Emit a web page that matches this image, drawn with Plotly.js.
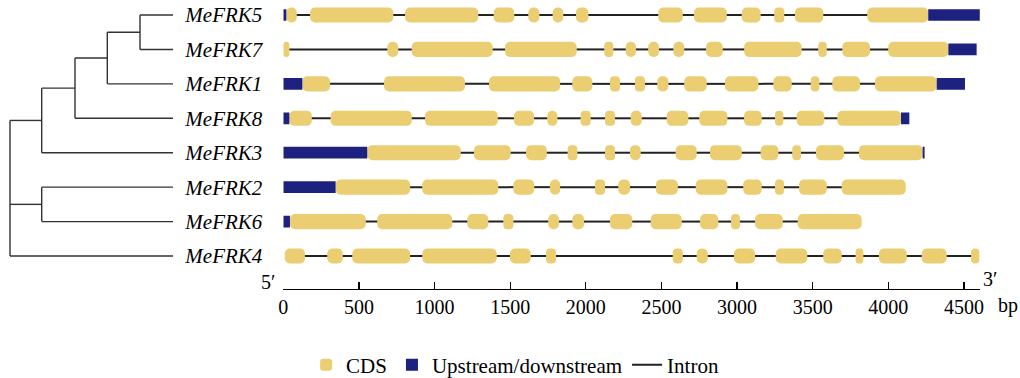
<!DOCTYPE html>
<html><head><meta charset="utf-8">
<script src="https://cdn.plot.ly/plotly-3.0.1.min.js"></script>
<style>html,body{margin:0;padding:0;background:#fff}#chart{width:1020px;height:378px}</style>
</head><body><div id="chart"></div>
<script>
// ---- data (bp) ----
const genes = ['MeFRK5','MeFRK7','MeFRK1','MeFRK8','MeFRK3','MeFRK2','MeFRK6','MeFRK4'];

const MeFRK5_utr = [[0,20],[4264,4606]];
const MeFRK5_cds = [[20,89],[177,727],[805,1289],[1391,1527],[1620,1693],[1781,1851],[1935,2017],[2479,2641],[2715,2932],[3031,3156],[3246,3312],[3383,3570],[3861,4264]];
const MeFRK7_utr = [[4397,4584]];
const MeFRK7_cds = [[0,40],[688,760],[849,1384],[1466,1940],[2122,2182],[2264,2332],[2413,2484],[2579,2651],[2795,2905],[3047,3427],[3537,3593],[3696,3879],[4000,4397]];
const MeFRK1_utr = [[0,126],[4320,4507]];
const MeFRK1_cds = [[126,309],[666,1201],[1360,1830],[1911,2043],[2160,2226],[2325,2391],[2473,2546],[2651,2799],[2920,3141],[3240,3361],[3487,3544],[3630,3813],[3912,4320]];
const MeFRK8_utr = [[0,40],[4084,4139]];
const MeFRK8_cds = [[40,188],[313,849],[937,1418],[1525,1658],[1745,1812],[1966,2032],[2127,2193],[2297,2370],[2535,2678],[2750,2936],[3046,3163],[3251,3306],[3394,3577],[3663,4084]];
const MeFRK3_utr = [[0,555],[4227,4240]];
const MeFRK3_cds = [[555,1173],[1261,1503],[1605,1742],[1880,1944],[2127,2193],[2292,2363],[2594,2733],[2821,3031],[3156,3273],[3365,3423],[3522,3707],[3806,4227]];
const MeFRK2_utr = [[0,346]];
const MeFRK2_cds = [[346,838],[919,1421],[1521,1659],[1763,1830],[2061,2127],[2215,2292],[2464,2608],[2727,2936],[3041,3163],[3251,3310],[3410,3593],[3692,4115]];
const MeFRK6_utr = [[0,44]];
const MeFRK6_cds = [[44,545],[621,1117],[1217,1355],[1455,1521],[1752,1823],[1911,1988],[2160,2307],[2429,2634],[2755,2876],[2960,3019],[3119,3302],[3401,3824]];
const MeFRK4_utr = [];
const MeFRK4_cds = [[10,143],[291,393],[456,838],[919,1411],[1499,1636],[1737,1803],[2575,2641],[2733,2806],[2980,3119],[3256,3464],[3570,3692],[3784,3835],[3938,4122],[4221,4386],[4547,4602]];

const cdsByGene = [MeFRK5_cds, MeFRK7_cds, MeFRK1_cds, MeFRK8_cds, MeFRK3_cds, MeFRK2_cds, MeFRK6_cds, MeFRK4_cds];
const utrByGene = [MeFRK5_utr, MeFRK7_utr, MeFRK1_utr, MeFRK8_utr, MeFRK3_utr, MeFRK2_utr, MeFRK6_utr, MeFRK4_utr];

const tickValues = [0,500,1000,1500,2000,2500,3000,3500,4000,4500];
const tickLabels = ['0','500','1000','1500','2000','2500','3000','3500','4000','4500'];
const legendNames = ['CDS','Upstream/downstream','Intron'];

// phylogenetic tree: node depth (tree units) and children
const leafDepth = 173;
const tree = {d:10, c:[
  {d:41.7, c:[ {d:75, c:[ {d:107.3, c:[ {d:140, c:['MeFRK5','MeFRK7']}, 'MeFRK1']}, 'MeFRK8']}, 'MeFRK3']},
  {d:41.7, c:['MeFRK2','MeFRK6']},
  'MeFRK4']};

// ---- build traces ----
function barArrays(list){
  const y=[],base=[],len=[];
  list.forEach((segs,i)=>segs.forEach(s=>{y.push(i);base.push(s[0]);len.push(s[1]-s[0]);}));
  return {y,base,len};
}
const cdsA = barArrays(cdsByGene);
const utrA = barArrays(utrByGene);

const ix=[], iy=[];
genes.forEach((g,i)=>{
  const segs = cdsByGene[i].concat(utrByGene[i]).sort((a,b)=>a[0]-b[0]);
  for(let k=0;k<segs.length-1;k++){
    if(segs[k+1][0]>segs[k][1]){ ix.push(segs[k][1],segs[k+1][0],null); iy.push(i,i,null); }
  }
});

const tx=[], ty=[];
function walk(node){
  if(typeof node==='string') return {y:genes.indexOf(node), d:leafDepth};
  const kids = node.c.map(walk);
  const ys = kids.map(k=>k.y);
  const y0=Math.min(...ys), y1=Math.max(...ys);
  tx.push(node.d,node.d,null); ty.push(y0,y1,null);
  kids.forEach(k=>{tx.push(node.d,k.d,null); ty.push(k.y,k.y,null);});
  return {y:(y0+y1)/2, d:node.d};
}
walk(tree);

const serif = 'Liberation Serif';
const CDS_COLOR = '#EBCD72';
const UTR_COLOR = '#1d2180';

const data = [
  {type:'bar', orientation:'h', name:legendNames[0], y:cdsA.y, base:cdsA.base, x:cdsA.len, width:0.44,
   marker:{color:CDS_COLOR, cornerradius:5, line:{width:0}}, hoverinfo:'skip'},
  {type:'bar', orientation:'h', name:legendNames[1], y:utrA.y, base:utrA.base, x:utrA.len, width:0.34,
   marker:{color:UTR_COLOR, line:{width:0}}, hoverinfo:'skip'},
  {type:'scatter', mode:'lines', name:legendNames[2], x:ix, y:iy, line:{color:'#222', width:2}, hoverinfo:'skip'},
  {type:'scatter', mode:'lines', xaxis:'x2', yaxis:'y', x:tx, y:ty, line:{color:'#333', width:1.4}, showlegend:false, hoverinfo:'skip'}
];

const W=1020, H=378;
const px0 = 283.3, pxPerBp = 0.15125, xMax = 4605;
const axisPx = 289, rowTop = 15, rowStep = 34.43;
const txtFont = {family:serif, size:20, color:'#000'};

const layout = {
  width:W, height:H, margin:{l:0,r:0,t:0,b:0,pad:0,autoexpand:false},
  paper_bgcolor:'#fff', plot_bgcolor:'rgba(0,0,0,0)',
  barmode:'overlay', showlegend:true,
  legend:{orientation:'h', x:0.505, xanchor:'center', y:(H-365)/H, yanchor:'middle',
    font:{family:serif, size:21, color:'#000'}, bgcolor:'rgba(0,0,0,0)', itemwidth:30, traceorder:'normal'},
  xaxis:{domain:[px0/W, (px0+xMax*pxPerBp)/W], range:[0,xMax], anchor:'y',
    tickmode:'array', tickvals:tickValues, ticktext:tickLabels,
    ticks:'inside', ticklen:7, tickwidth:1.2, tickcolor:'#000',
    showline:true, linecolor:'#000', linewidth:1.2, showgrid:false, zeroline:false,
    tickfont:{family:serif, size:20, color:'#000'}, fixedrange:true, automargin:false},
  yaxis:{domain:[(H-axisPx)/H,1], range:[(axisPx-rowTop)/rowStep, -rowTop/rowStep], anchor:'x',
    tickmode:'array', tickvals:genes.map((g,i)=>i), ticktext:genes.map(g=>'<i>'+g+'</i>'),
    ticks:'', showgrid:false, zeroline:false, showline:false, ticklabelstandoff:20,
    tickfont:{family:serif, size:21, color:'#000'}, fixedrange:true, automargin:false},
  xaxis2:{domain:[0, px0/W], range:[0, px0], anchor:'y', visible:false, fixedrange:true},
  annotations:[
    {xref:'paper', yref:'paper', x:268/W, y:(H-282)/H, xanchor:'center', yanchor:'middle', text:'5′', showarrow:false, font:txtFont},
    {xref:'paper', yref:'paper', x:990/W, y:(H-279)/H, xanchor:'center', yanchor:'middle', text:'3′', showarrow:false, font:txtFont},
    {xref:'paper', yref:'paper', x:1008/W, y:(H-305)/H, xanchor:'center', yanchor:'middle', text:'bp', showarrow:false, font:txtFont}
  ]
};

Plotly.newPlot('chart', data, layout, {displayModeBar:false, staticPlot:true});
</script></body></html>
